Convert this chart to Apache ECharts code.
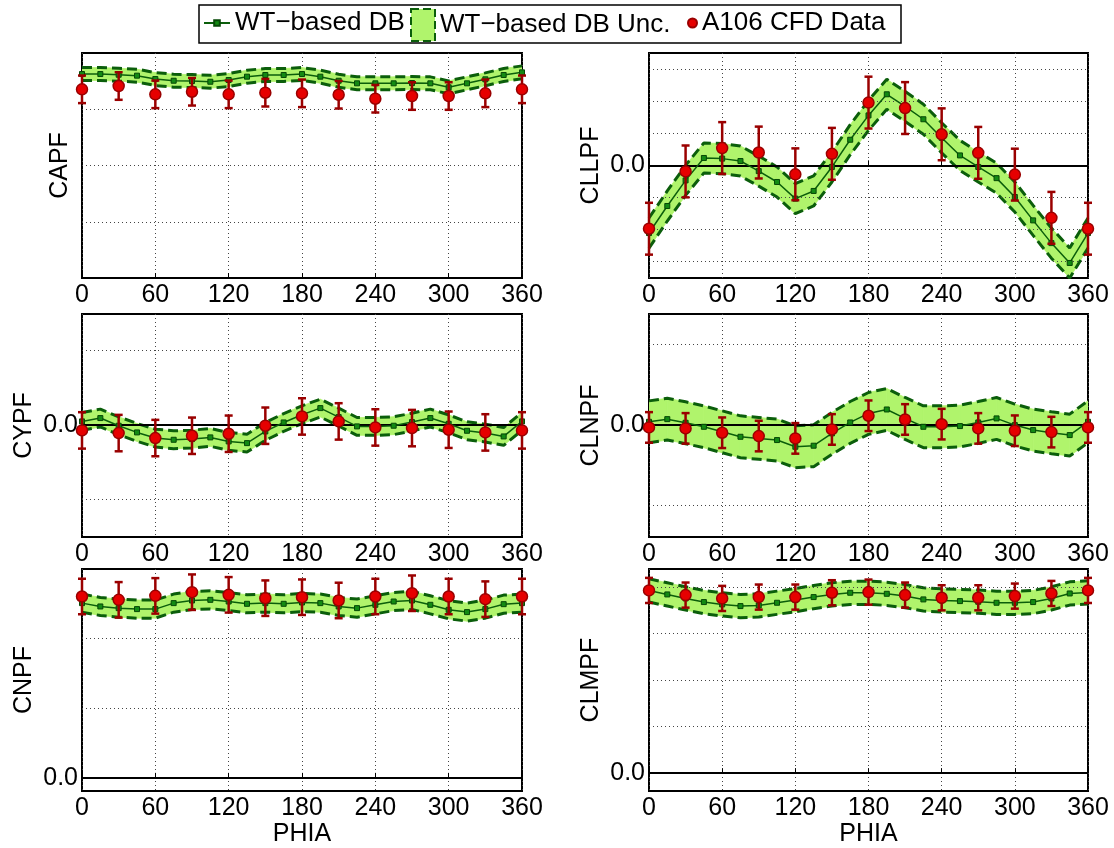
<!DOCTYPE html>
<html>
<head>
<meta charset="utf-8">
<script src="https://cdn.jsdelivr.net/npm/echarts@6/dist/echarts.min.js"></script>
<style>html,body{margin:0;padding:0;background:#fff}#c{width:1114px;height:848px}</style>
</head>
<body>
<div id="c"></div>
<script>
// ---------------- DATA ----------------
const DB_PHI  = [0,15,30,45,60,75,90,105,120,135,150,165,180,195,210,225,240,255,270,285,300,315,330,345,360];
const CFD_PHI = [0,30,60,90,120,150,180,210,240,270,300,330,360];
const X_TICK_STEP = 60;

const CAPF_DB  = [3.626,3.626,3.614,3.597,3.537,3.507,3.502,3.489,3.520,3.579,3.609,3.609,3.626,3.579,3.507,3.461,3.461,3.461,3.466,3.461,3.390,3.461,3.532,3.609,3.656];
const CAPF_DB_UNC = 0.115;
const CAPF_CFD = [3.354,3.413,3.265,3.311,3.265,3.294,3.283,3.258,3.187,3.235,3.235,3.283,3.354];
const CAPF_CFD_ERR = 0.245;

const CLLPF_DB  = [-2.115,-1.27,-0.47,0.23,0.21,0.135,-0.18,-0.52,-1.04,-0.80,-0.05,0.80,1.56,2.22,1.84,1.44,0.86,0.31,-0.05,-0.40,-0.99,-1.72,-2.43,-3.05,-2.115];
const CLLPF_DB_UNC = 0.47;
const CLLPF_CFD = [-1.98,-0.19,0.54,0.40,-0.28,0.36,1.96,1.79,0.97,0.39,-0.29,-1.64,-1.98];
const CLLPF_CFD_ERR = 0.81;

const CYPF_DB  = [0.045,0.09,-0.013,-0.103,-0.179,-0.202,-0.193,-0.170,-0.224,-0.247,-0.09,0.031,0.135,0.224,0.103,-0.022,-0.022,-0.013,0.036,0.09,0.013,-0.081,-0.112,-0.157,0.045];
const CYPF_DB_UNC = 0.12;
const CYPF_CFD = [-0.076,-0.112,-0.179,-0.148,-0.121,-0.013,0.112,0.045,-0.036,-0.045,-0.067,-0.103,-0.076];
const CYPF_CFD_ERR = 0.245;

const CLNPF_DB  = [0.041,0.074,0.029,-0.021,-0.083,-0.145,-0.165,-0.186,-0.269,-0.256,-0.103,0.033,0.145,0.194,0.083,-0.021,-0.021,-0.012,0.033,0.083,0.0,-0.062,-0.095,-0.124,0.041];
const CLNPF_DB_UNC = 0.26;
const CLNPF_CFD = [-0.029,-0.041,-0.095,-0.136,-0.165,-0.054,0.116,0.070,0.012,-0.041,-0.070,-0.087,-0.029];
const CLNPF_CFD_ERR = 0.19;

const CNPF_DB  = [2.510,2.462,2.438,2.424,2.424,2.510,2.548,2.557,2.533,2.500,2.510,2.500,2.519,2.510,2.462,2.438,2.486,2.533,2.548,2.486,2.414,2.381,2.424,2.495,2.510];
const CNPF_DB_UNC = 0.13;
const CNPF_CFD = [2.605,2.557,2.614,2.667,2.629,2.581,2.595,2.548,2.605,2.652,2.605,2.567,2.605];
const CNPF_CFD_ERR = 0.255;

const CLMPF_DB  = [3.929,3.843,3.757,3.679,3.629,3.593,3.607,3.664,3.721,3.786,3.843,3.879,3.879,3.857,3.807,3.736,3.714,3.700,3.686,3.664,3.664,3.679,3.757,3.864,3.886];
const CLMPF_DB_UNC = 0.25;
const CLMPF_CFD = [3.929,3.829,3.757,3.786,3.786,3.879,3.893,3.829,3.771,3.771,3.807,3.864,3.929];
const CLMPF_CFD_ERR = 0.27;

const NAME_DB  = 'WT\u2212based DB';
const NAME_UNC = 'WT\u2212based DB Unc.';
const NAME_CFD = 'A106 CFD Data';

// ---------------- PANELS (axis ranges in each panel's grid units) ----------------
const panels = [
  {label:'CAPF',  db:CAPF_DB,  unc:CAPF_DB_UNC,  cfd:CAPF_CFD,  err:CAPF_CFD_ERR,  yMin:0,     yMax:4,    yGrid:[1,2,3],          zero:false},
  {label:'CLLPF', db:CLLPF_DB, unc:CLLPF_DB_UNC, cfd:CLLPF_CFD, err:CLLPF_CFD_ERR, yMin:-3.52, yMax:3.51, yGrid:[-3,-2,-1,1,2,3], zero:true},
  {label:'CYPF',  db:CYPF_DB,  unc:CYPF_DB_UNC,  cfd:CYPF_CFD,  err:CYPF_CFD_ERR,  yMin:-1.51, yMax:1.49, yGrid:[-1,1],           zero:true},
  {label:'CLNPF', db:CLNPF_DB, unc:CLNPF_DB_UNC, cfd:CLNPF_CFD, err:CLNPF_CFD_ERR, yMin:-1.39, yMax:1.38, yGrid:[-1,1],           zero:true},
  {label:'CNPF',  db:CNPF_DB,  unc:CNPF_DB_UNC,  cfd:CNPF_CFD,  err:CNPF_CFD_ERR,  yMin:-0.19, yMax:3.0,  yGrid:[1,2],            zero:true},
  {label:'CLMPF', db:CLMPF_DB, unc:CLMPF_DB_UNC, cfd:CLMPF_CFD, err:CLMPF_CFD_ERR, yMin:-0.386,yMax:4.39, yGrid:[1,2,3,4],        zero:true}
];

// ---------------- LAYOUT & STYLE ----------------
const layout = [[82,53,440,225],[649,53,439,225],[82,314,440,223],[649,314,439,223],[82,569,440,223],[649,569,439,223]];
const FONT = '"Liberation Sans", Arial, Helvetica, sans-serif';
const AXIS_FS = 25;
const GREEN_DARK = '#0b5e0b';
const GREEN_MARK = '#138a13';
const GREEN_FILL = '#b0f46c';
const RED = '#e60000';
const RED_DARK = '#9a0000';
const GRID_LINE = {color:'#444', type:[1,3], width:1};

function bandItem(params, api){
  const a = api.coord([api.value(0), api.value(1)]);
  const b = api.coord([api.value(3), api.value(4)]);
  const c = api.coord([api.value(3), api.value(5)]);
  const d = api.coord([api.value(0), api.value(2)]);
  return {type:'polygon', shape:{points:[a,b,c,d]}, style:{fill:GREEN_FILL, stroke:GREEN_FILL, lineWidth:0.8}};
}
function errItem(params, api){
  const x = api.value(0);
  const p1 = api.coord([x, api.value(1)]);
  const p2 = api.coord([x, api.value(2)]);
  const w = 4;
  const st = {stroke:RED_DARK, lineWidth:2.5};
  return {type:'group', children:[
    {type:'line', shape:{x1:p1[0], y1:p1[1], x2:p2[0], y2:p2[1]}, style:st},
    {type:'line', shape:{x1:p1[0]-w, y1:p1[1], x2:p1[0]+w, y2:p1[1]}, style:st},
    {type:'line', shape:{x1:p2[0]-w, y1:p2[1], x2:p2[0]+w, y2:p2[1]}, style:st}
  ]};
}

const grids = [], xAxes = [], yAxes = [], series = [];
panels.forEach((p, i) => {
  const L = layout[i];
  grids.push({left:L[0], top:L[1], width:L[2], height:L[3], show:true, borderColor:'#000', borderWidth:2, backgroundColor:'transparent'});
  xAxes.push({
    gridIndex:i, type:'value', min:0, max:360, interval:X_TICK_STEP,
    axisLine:{show:false},
    axisTick:{show:true, inside:true, length:5, lineStyle:{color:'#000', width:1}},
    axisLabel:{color:'#000', fontSize:AXIS_FS, fontFamily:FONT, margin:5},
    splitLine:{show:true, lineStyle:GRID_LINE},
    name: i >= 4 ? 'PHIA' : '', nameLocation:'middle', nameGap:29,
    nameTextStyle:{color:'#000', fontSize:AXIS_FS, fontFamily:FONT}
  });
  yAxes.push({
    gridIndex:i, type:'value', min:p.yMin, max:p.yMax,
    axisLine:{show:false}, axisTick:{show:false}, axisLabel:{show:false}, splitLine:{show:false},
    name:p.label, nameLocation:'middle', nameGap: p.zero ? 45 : 9,
    nameTextStyle:{color:'#000', fontSize:AXIS_FS, fontFamily:FONT}
  });
  const ax = {xAxisIndex:i, yAxisIndex:i};
  // horizontal dotted grid lines
  series.push(Object.assign({type:'line', data:[], silent:true, z:1, name:'_grid'+i,
    markLine:{silent:true, symbol:['none','none'], label:{show:false}, lineStyle:GRID_LINE, animation:false,
      data:p.yGrid.map(v => ({yAxis:v}))}}, ax));
  // band
  const seg = [];
  for (let k = 0; k < DB_PHI.length - 1; k++) {
    seg.push([DB_PHI[k], p.db[k]-p.unc, p.db[k]+p.unc, DB_PHI[k+1], p.db[k+1]-p.unc, p.db[k+1]+p.unc]);
  }
  series.push(Object.assign({type:'custom', name:NAME_UNC, z:2, clip:true, silent:true, renderItem:bandItem,
    encode:{x:[0,3], y:[1,2,4,5]}, itemStyle:{color:GREEN_FILL}, data:seg}, ax));
  // dashed bounds
  [1, -1].forEach(s => {
    series.push(Object.assign({type:'line', name:'_bound', z:3, silent:true, symbol:'none', clip:true,
      lineStyle:{color:GREEN_DARK, width:3, type:[10,5]},
      data:DB_PHI.map((x,k) => [x, p.db[k] + s*p.unc])}, ax));
  });
  // zero line
  if (p.zero) {
    series.push(Object.assign({type:'line', data:[], silent:true, z:4, name:'_zero'+i,
      markLine:{silent:true, symbol:['none','none'], animation:false,
        label:{show:true, position:'start', formatter:'0.0', color:'#000', fontSize:AXIS_FS, fontFamily:FONT, distance:4},
        lineStyle:{color:'#000', width:2, type:'solid'},
        data:[{yAxis:0}]}}, ax));
  }
  // center DB line
  series.push(Object.assign({type:'line', name:NAME_DB, z:5, silent:true, symbol:'rect', symbolSize:5, showAllSymbol:true, clip:true,
    lineStyle:{color:GREEN_DARK, width:1.5},
    itemStyle:{color:GREEN_MARK, borderColor:'#064806', borderWidth:1},
    data:DB_PHI.map((x,k) => [x, p.db[k]])}, ax));
  // error bars
  series.push(Object.assign({type:'custom', name:'_err', z:6, clip:false, silent:true, renderItem:errItem,
    encode:{x:0, y:[1,2]},
    data:CFD_PHI.map((x,k) => [x, p.cfd[k]-p.err, p.cfd[k]+p.err])}, ax));
  // CFD points
  series.push(Object.assign({type:'scatter', name:NAME_CFD, z:7, silent:true, symbol:'circle', symbolSize:11, clip:false,
    itemStyle:{color:RED, borderColor:RED_DARK, borderWidth:1.5, opacity:1},
    data:CFD_PHI.map((x,k) => [x, p.cfd[k]])}, ax));
});

const legendText = {color:'#000', fontSize:26, fontFamily:FONT};
const option = {
  animation:false,
  backgroundColor:'#fff',
  grid:grids, xAxis:xAxes, yAxis:yAxes, series:series,
  graphic:[{type:'rect', z:-10, shape:{x:199, y:5, width:702, height:38}, style:{fill:'#fff', stroke:'#000', lineWidth:1.5}}],
  legend:[
    {data:[{name:NAME_DB}], left:203, top:10, padding:0, itemWidth:26, itemHeight:7, selectedMode:false, textStyle:legendText},
    {data:[{name:NAME_UNC, icon:'rect', itemStyle:{color:GREEN_FILL, borderColor:GREEN_DARK, borderWidth:2, borderType:'dashed'}}],
      left:410, top:8, padding:0, itemWidth:24, itemHeight:32, selectedMode:false, textStyle:legendText},
    {data:[{name:NAME_CFD, icon:'circle'}], left:687, top:10, padding:0, itemWidth:9, itemHeight:9, selectedMode:false, textStyle:legendText}
  ]
};
const chart = echarts.init(document.getElementById('c'));
chart.setOption(option);
</script>
</body>
</html>
